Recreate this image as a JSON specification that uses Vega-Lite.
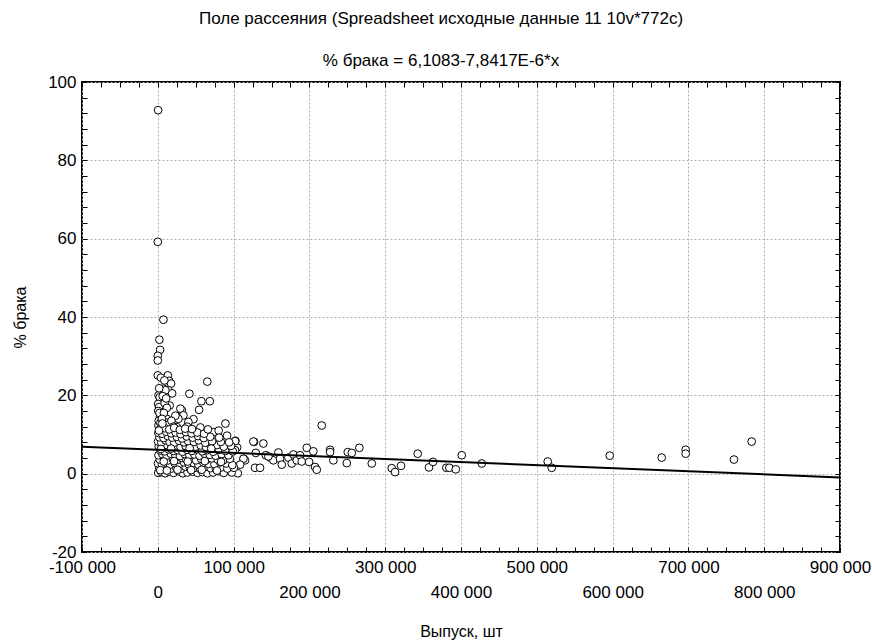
{
"$schema": "https://vega.github.io/schema/vega-lite/v6.json",
"width": 758, "height": 470,
"autosize": "none",
"padding": {"left": 82, "top": 82, "right": 32, "bottom": 91},
"background": "white",
"config": {"view": {"stroke": "black", "strokeWidth": 2}, "font": "Liberation Sans"},
"title": {"text": "Поле рассеяния (Spreadsheet исходные данные 11 10v*772c)", "subtitle": "% брака = 6,1083-7,8417E-6*x", "fontSize": 17, "fontWeight": "normal", "subtitleFontSize": 17, "subtitleFont": "Liberation Sans", "font": "Liberation Sans", "anchor": "middle", "dx": -20, "offset": 3, "subtitlePadding": 25, "color": "black", "subtitleColor": "black"},
"layer": [
{"data": {"values": [
{"x":400,"y":92.8},{"x":0,"y":59.2},{"x":7400,"y":39.3},{"x":2100,"y":34.2},{"x":3000,"y":31.6},{"x":0,"y":30.1},{"x":0,"y":28.9},{"x":0,"y":25.1},{"x":13200,"y":25.1},{"x":4000,"y":24.5},{"x":14900,"y":23.7},{"x":17500,"y":23.0},{"x":8700,"y":23.8},{"x":65300,"y":23.5},{"x":41700,"y":20.4},{"x":57500,"y":18.5},{"x":68600,"y":18.5},{"x":54500,"y":16.3},{"x":47000,"y":13.9},{"x":89200,"y":12.8},
{"x":7400,"y":21.7},{"x":14000,"y":21.3},{"x":18900,"y":20.5},{"x":10000,"y":21.3},{"x":3000,"y":18.7},{"x":5700,"y":18.3},{"x":15700,"y":17.4},{"x":4400,"y":16.2},{"x":31700,"y":16.2},{"x":29800,"y":16.6},{"x":33800,"y":14.9},{"x":27200,"y":14.0},{"x":23200,"y":14.8},{"x":3000,"y":14.5},{"x":11900,"y":14.0},{"x":40400,"y":13.2},{"x":800,"y":12.3},{"x":25000,"y":11.9},{"x":10000,"y":13.1},{"x":38600,"y":12.0},{"x":56200,"y":11.8},{"x":73700,"y":10.6},{"x":80300,"y":11.0},{"x":91400,"y":9.7},{"x":102400,"y":8.4},{"x":104600,"y":6.7},{"x":113300,"y":3.8},
{"x":1000,"y":20.0},{"x":2500,"y":19.5},{"x":500,"y":17.8},{"x":1800,"y":17.0},{"x":600,"y":16.0},{"x":2200,"y":15.5},{"x":1200,"y":13.5},{"x":3500,"y":13.0},{"x":6500,"y":19.8},{"x":9000,"y":18.0},{"x":12000,"y":16.8},{"x":8000,"y":15.5},{"x":5500,"y":14.0},{"x":13500,"y":12.5},{"x":18000,"y":13.5},{"x":20500,"y":12.0},{"x":16000,"y":11.2},
{"x":127000,"y":8.1},{"x":139300,"y":7.7},{"x":129300,"y":5.3},{"x":128300,"y":1.5},{"x":134900,"y":1.5},{"x":115100,"y":3.4},{"x":142500,"y":4.7},{"x":148100,"y":4.1},{"x":152500,"y":3.4},{"x":159100,"y":5.4},{"x":161300,"y":3.8},{"x":163600,"y":2.3},{"x":172300,"y":4.1},{"x":176700,"y":2.6},{"x":178900,"y":4.9},{"x":183300,"y":3.4},{"x":187700,"y":4.7},{"x":189900,"y":3.1},{"x":196500,"y":6.6},{"x":199600,"y":3.0},{"x":205200,"y":5.7},{"x":207500,"y":1.7},{"x":209700,"y":1.0},{"x":216300,"y":12.3},{"x":227300,"y":6.1},{"x":227300,"y":5.5},{"x":231600,"y":3.4},{"x":250600,"y":5.5},{"x":249300,"y":2.7},{"x":255900,"y":5.3},{"x":265900,"y":6.6},{"x":282300,"y":2.6},{"x":308600,"y":1.4},{"x":313000,"y":0.4},{"x":320900,"y":2.0},{"x":342900,"y":5.1},{"x":357800,"y":1.6},{"x":363100,"y":3.0},{"x":380700,"y":1.5},{"x":384600,"y":1.5},{"x":393100,"y":1.1},{"x":401000,"y":4.7},{"x":427400,"y":2.6},{"x":514400,"y":3.1},{"x":519700,"y":1.5},{"x":596200,"y":4.6},{"x":664800,"y":4.1},{"x":696400,"y":6.1},{"x":696400,"y":5.1},{"x":760100,"y":3.6},{"x":783500,"y":8.2},{"x":145900,"y":4.4},
{"x":126100,"y":8.2},{"x":102000,"y":8.3},{"x":113000,"y":3.8},{"x":105500,"y":0.1},{"x":95400,"y":0.8},{"x":86500,"y":0.4},{"x":108600,"y":2.3},{"x":102000,"y":6.0},{"x":93100,"y":7.2},
{"x":600,"y":0.2},{"x":4500,"y":0.4},{"x":9800,"y":0.1},{"x":15200,"y":0.5},{"x":20800,"y":0.2},{"x":27500,"y":0.6},{"x":33000,"y":0.1},{"x":39200,"y":0.3},{"x":46000,"y":0.5},{"x":52500,"y":0.2},{"x":59000,"y":0.4},{"x":65500,"y":0.1},{"x":73000,"y":0.3},{"x":80500,"y":0.6},{"x":87000,"y":0.2},{"x":97500,"y":0.3},
{"x":2000,"y":1.4},{"x":7200,"y":1.2},{"x":12600,"y":1.7},{"x":18000,"y":1.3},{"x":24200,"y":1.6},{"x":30400,"y":1.2},{"x":36500,"y":1.8},{"x":42500,"y":1.3},{"x":49000,"y":1.5},{"x":55800,"y":1.2},{"x":62300,"y":1.7},{"x":69800,"y":1.4},{"x":76600,"y":1.2},{"x":84000,"y":1.6},{"x":91800,"y":1.3},{"x":100500,"y":1.5},
{"x":300,"y":2.6},{"x":5400,"y":2.4},{"x":10700,"y":2.8},{"x":16200,"y":2.3},{"x":22100,"y":2.7},{"x":28700,"y":2.5},{"x":34600,"y":2.9},{"x":40800,"y":2.4},{"x":47300,"y":2.7},{"x":53600,"y":2.3},{"x":60200,"y":2.8},{"x":67100,"y":2.5},{"x":74800,"y":2.4},{"x":82300,"y":2.9},{"x":90200,"y":2.6},{"x":98300,"y":2.2},
{"x":2600,"y":3.6},{"x":8100,"y":3.9},{"x":13700,"y":3.4},{"x":19600,"y":3.8},{"x":25600,"y":3.5},{"x":31700,"y":4.0},{"x":37700,"y":3.6},{"x":44100,"y":3.9},{"x":50600,"y":3.4},{"x":57200,"y":3.8},{"x":64100,"y":3.5},{"x":71200,"y":3.9},{"x":79100,"y":3.6},{"x":86300,"y":3.4},{"x":95000,"y":3.8},
{"x":900,"y":4.7},{"x":6100,"y":5.0},{"x":11600,"y":4.6},{"x":17100,"y":5.1},{"x":23100,"y":4.8},{"x":29200,"y":4.5},{"x":35600,"y":5.0},{"x":41700,"y":4.7},{"x":48200,"y":4.9},{"x":55100,"y":4.6},{"x":61600,"y":5.1},{"x":68600,"y":4.8},{"x":76200,"y":4.6},{"x":84200,"y":5.0},{"x":93100,"y":4.7},
{"x":3600,"y":5.9},{"x":9100,"y":5.7},{"x":14600,"y":6.2},{"x":20600,"y":5.8},{"x":26600,"y":6.0},{"x":32600,"y":5.6},{"x":38600,"y":6.1},{"x":45100,"y":5.8},{"x":51600,"y":6.2},{"x":58600,"y":5.7},{"x":65600,"y":6.0},{"x":73100,"y":5.6},{"x":80600,"y":6.1},{"x":89100,"y":5.8},{"x":99000,"y":5.7},
{"x":1200,"y":7.0},{"x":6600,"y":6.8},{"x":12100,"y":7.3},{"x":18100,"y":6.9},{"x":24100,"y":7.2},{"x":30100,"y":6.8},{"x":36600,"y":7.1},{"x":43100,"y":7.3},{"x":49600,"y":6.9},{"x":56600,"y":7.2},{"x":63600,"y":6.8},{"x":70100,"y":7.1},{"x":78100,"y":7.3},{"x":87100,"y":6.9},{"x":96600,"y":7.1},
{"x":400,"y":8.2},{"x":4600,"y":8.0},{"x":10100,"y":8.5},{"x":15600,"y":8.1},{"x":21600,"y":7.9},{"x":28100,"y":8.4},{"x":34600,"y":8.0},{"x":40100,"y":8.3},{"x":47600,"y":8.1},{"x":54100,"y":8.5},{"x":62600,"y":7.9},{"x":71600,"y":8.3},{"x":83100,"y":8.1},{"x":94100,"y":8.0},
{"x":2100,"y":9.3},{"x":7600,"y":9.1},{"x":13100,"y":9.6},{"x":19100,"y":9.2},{"x":25100,"y":9.4},{"x":32100,"y":9.0},{"x":38100,"y":9.5},{"x":46100,"y":9.2},{"x":53100,"y":9.6},{"x":60600,"y":9.1},{"x":69100,"y":9.4},{"x":81000,"y":9.2},
{"x":800,"y":10.4},{"x":5600,"y":10.2},{"x":11100,"y":10.7},{"x":17600,"y":10.3},{"x":23600,"y":10.5},{"x":30100,"y":10.1},{"x":37100,"y":10.6},{"x":44600,"y":10.3},{"x":52100,"y":10.5},{"x":61100,"y":10.2},
{"x":3100,"y":11.4},{"x":9100,"y":11.6},{"x":15100,"y":11.3},{"x":21600,"y":11.7},{"x":29100,"y":11.2},{"x":36100,"y":11.5},{"x":45100,"y":11.4},{"x":66100,"y":11.3},
{"x":3300,"y":0.9},{"x":12000,"y":0.8},{"x":26000,"y":1.0},{"x":44000,"y":0.9},{"x":58000,"y":1.0},{"x":78000,"y":0.8},{"x":7900,"y":3.1},{"x":21500,"y":3.2},{"x":39500,"y":3.1},{"x":62000,"y":3.2},{"x":83500,"y":3.0},{"x":4200,"y":6.3},{"x":17500,"y":6.4},{"x":42000,"y":6.5},{"x":70500,"y":6.4},{"x":1500,"y":11.0},{"x":6000,"y":12.8},{"x":1800,"y":21.8},{"x":11000,"y":19.2}
]},
"mark": {"type": "point", "shape": "circle", "filled": true, "fill": "white", "stroke": "black", "strokeWidth": 1, "size": 60, "opacity": 1, "fillOpacity": 1, "strokeOpacity": 1},
"encoding": {
"x": {"field": "x", "type": "quantitative", "scale": {"domain": [-100000, 900000], "nice": false, "zero": false},
 "axis": {"orient": "bottom", "values": [-100000,-75000,-50000,-25000,0,25000,50000,75000,100000,125000,150000,175000,200000,225000,250000,275000,300000,325000,350000,375000,400000,425000,450000,475000,500000,525000,550000,575000,600000,625000,650000,675000,700000,725000,750000,775000,800000,825000,850000,875000,900000],
  "labelExpr": "abs(datum.value % 100000) > 1 ? '' : (abs(round(datum.value/100000)) % 2 == 1 ? (datum.value/1000) + ' 000' : ['', datum.value == 0 ? '0' : (datum.value/1000) + ' 000'])",
  "labelLineHeight": 25, "labelPadding": 12, "labelOverlap": false, "labelFlush": false, "labelBound": false, "labelFontSize": 17, "labelColor": "black", "labelFont": "Liberation Sans",
  "tickSize": -5, "tickColor": "black", "tickWidth": 1, "domain": false,
  "grid": true, "gridColor": {"condition": {"test": "abs(datum.value % 100000) < 1", "value": "#b0b0b0"}, "value": "transparent"}, "gridDash": [2, 2], "gridWidth": 1,
  "title": "Выпуск, шт", "titleFontSize": 16, "titleFontWeight": "normal", "titleColor": "black", "titleFont": "Liberation Sans", "titlePadding": 23}},
"y": {"field": "y", "type": "quantitative", "scale": {"domain": [-20, 100], "nice": false, "zero": false},
 "axis": {"orient": "left", "values": [-20,-16,-12,-8,-4,0,4,8,12,16,20,24,28,32,36,40,44,48,52,56,60,64,68,72,76,80,84,88,92,96,100],
  "labelExpr": "datum.value % 20 == 0 ? '' + datum.value : ''",
  "labelPadding": 11, "labelOverlap": false, "labelFlush": false, "labelBound": false, "labelFontSize": 17, "labelColor": "black", "labelFont": "Liberation Sans",
  "tickSize": -5, "tickColor": "black", "tickWidth": 1, "domain": false,
  "grid": true, "gridColor": {"condition": {"test": "datum.value % 20 == 0", "value": "#b0b0b0"}, "value": "transparent"}, "gridDash": [2, 2], "gridWidth": 1,
  "title": "% брака", "titleFontSize": 16, "titleFontWeight": "normal", "titleColor": "black", "titleFont": "Liberation Sans", "titlePadding": 19}}
}},
{"data": {"values": [{"x": -100000, "y": 6.8925}, {"x": 900000, "y": -0.9492}]},
"mark": {"type": "line", "color": "black", "strokeWidth": 2},
"encoding": {
"x": {"field": "x", "type": "quantitative", "scale": {"domain": [-100000, 900000], "nice": false, "zero": false},
 "axis": {"orient": "top", "values": [-100000,-75000,-50000,-25000,0,25000,50000,75000,100000,125000,150000,175000,200000,225000,250000,275000,300000,325000,350000,375000,400000,425000,450000,475000,500000,525000,550000,575000,600000,625000,650000,675000,700000,725000,750000,775000,800000,825000,850000,875000,900000], "labels": false, "grid": false, "domain": false, "tickSize": -5, "tickColor": "black", "tickWidth": 1, "title": null}},
"y": {"field": "y", "type": "quantitative", "scale": {"domain": [-20, 100], "nice": false, "zero": false},
 "axis": {"orient": "right", "values": [-20,-16,-12,-8,-4,0,4,8,12,16,20,24,28,32,36,40,44,48,52,56,60,64,68,72,76,80,84,88,92,96,100], "labels": false, "grid": false, "domain": false, "tickSize": -5, "tickColor": "black", "tickWidth": 1, "title": null}}
}}
],
"resolve": {"axis": {"x": "independent", "y": "independent"}}
}
